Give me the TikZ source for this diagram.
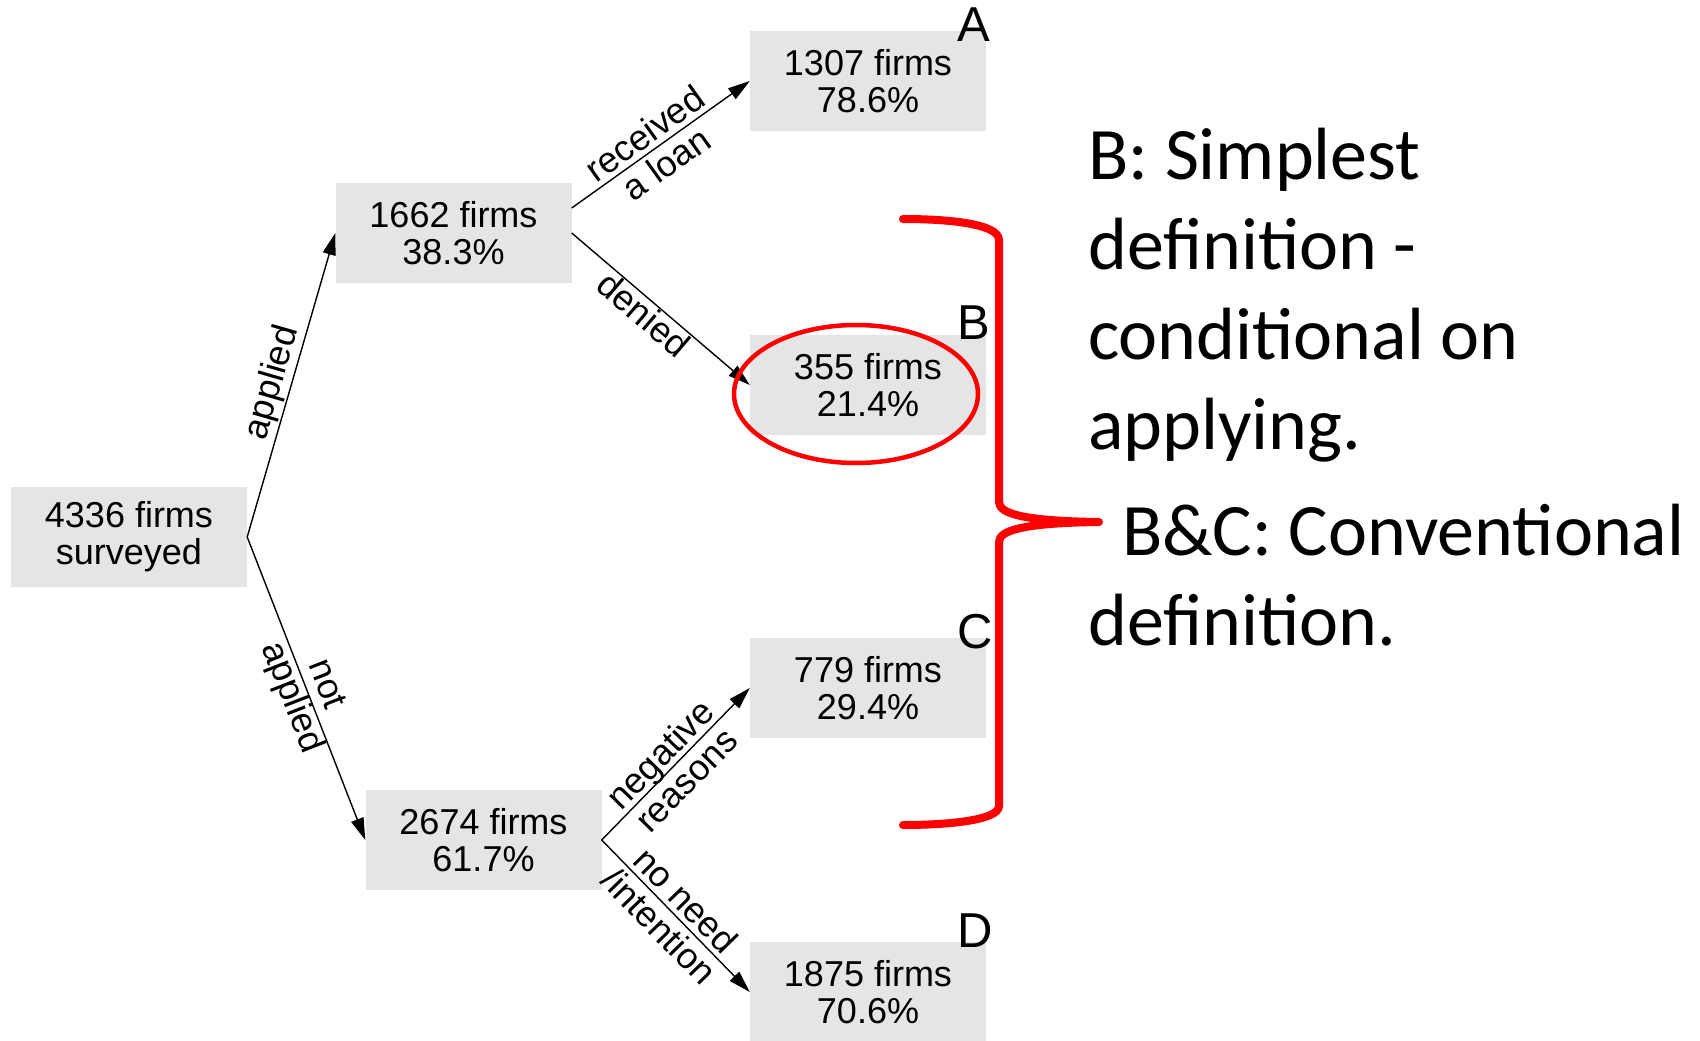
\documentclass[tikz,border=0pt]{standalone}
\usepackage{fontspec}
\setmainfont{Liberation Sans}
\newfontfamily\calib{Carlito}
\usetikzlibrary{arrows.meta}
\definecolor{boxgray}{RGB}{229,229,229}
\definecolor{markred}{RGB}{255,0,0}
\begin{document}
\begin{tikzpicture}[x=1pt,y=-1pt,
  box/.style={rectangle, fill=boxgray, minimum width=236pt, minimum height=100pt, inner sep=0pt, align=center, font=\fontsize{36}{37}\selectfont},
  edge/.style={draw=black, line width=1.4pt, -{Triangle[length=22pt,width=13pt]}},
  elab/.style={sloped, align=center, font=\fontsize{36}{37}\selectfont, inner sep=1pt},
  letter/.style={anchor=base, font=\fontsize{49}{49}\selectfont, inner sep=0pt},
  note/.style={anchor=base west, font=\calib\fontsize{74}{90}\selectfont, inner sep=0pt},
  redmark/.style={draw=markred, line width=8pt, line join=round, line cap=round},
  redring/.style={draw=markred, line width=4.5pt}
]
\useasboundingbox (0,0) rectangle (1700,1041);
\fill[white] (0,0) rectangle (1700,1041);

% boxes
\node[box] (root) at (129,537) {4336 firms\\surveyed};
\node[box] (n1662) at (453.5,233) {1662 firms\\38.3\%};
\node[box] (n2674) at (483.5,840) {2674 firms\\61.7\%};
\node[box] (n1307) at (868,81) {1307 firms\\78.6\%};
\node[box] (n355) at (868,385) {355 firms\\21.4\%};
\node[box] (n779) at (868,688) {779 firms\\29.4\%};
\node[box] (n1875) at (868,992) {1875 firms\\70.6\%};

% letters
\node[letter] (la) at (974,42) {A};
\node[letter] (lb) at (974,339) {B};
\node[letter] (lc) at (975,648) {C};
\node[letter] (ld) at (975,947) {D};

% edges
\coordinate (n1662up) at ([yshift=25pt]n1662.east);
\draw[edge] (root.east) -- node[elab, above, pos=0.49] {applied} (n1662.west);
\draw[edge] (root.east) -- node[elab, pos=0.51] {not\\applied} (n2674.west);
\draw[edge] (n1662up) -- node[elab, pos=0.47] {received\\a loan} (n1307.west);
\draw[edge] (n1662.east) -- node[elab, below, pos=0.46] {denied} (n355.west);
\draw[edge] (n2674.east) -- node[elab, pos=0.48] {negative\\reasons} (n779.west);
\draw[edge] (n2674.east) -- node[elab, pos=0.48] {no need\\/intention} (n1875.west);

% red ellipse
\draw[redring] (856,394) ellipse [x radius=122pt, y radius=69pt];

% red bracket
\coordinate (btop) at (903,219);
\coordinate (btip) at (1099,522);
\coordinate (bbot) at (903,825);
\draw[redmark] (btop) .. controls (950,219) and (999,224) .. (999,240) -- (999,502)
  .. controls (999,514) and (1025,521) .. (btip)
  .. controls (1025,523) and (999,530) .. (999,542) -- (999,806)
  .. controls (999,820) and (950,825) .. (bbot);

% notes
\node[note] (t1) at (1088,179) {B: Simplest};
\node[note] (t2) at (1088,269) {definition -};
\node[note] (t3) at (1088,359) {conditional on};
\node[note] (t4) at (1088,449) {applying.};
\node[note] (t5) at (1122,555) {B\&C: Conventional};
\node[note] (t6) at (1088,645) {definition.};
\end{tikzpicture}
\end{document}
